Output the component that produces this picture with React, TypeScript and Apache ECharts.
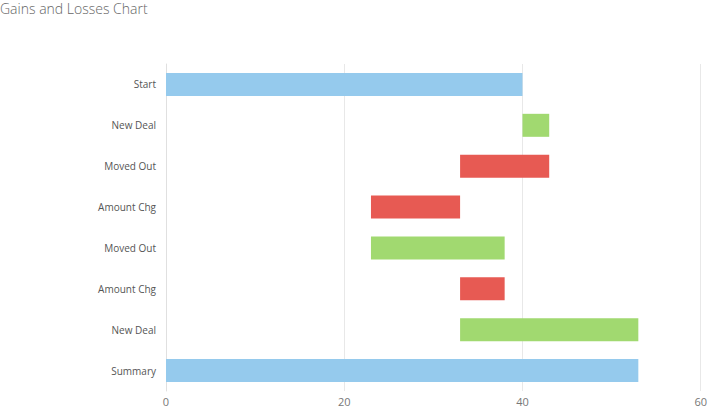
import React, { useEffect, useRef } from 'react';
import * as echarts from 'echarts';

const categories = ['Start', 'New Deal', 'Moved Out', 'Amount Chg', 'Moved Out', 'Amount Chg', 'New Deal', 'Summary'];
const barStart = [0, 40, 33, 23, 23, 33, 33, 0];
const barEnd = [40, 43, 43, 33, 38, 38, 53, 53];
const barKind = ['total', 'gain', 'loss', 'loss', 'gain', 'loss', 'gain', 'total'];
const xTicks = [0, 20, 40, 60];

const kindColor: Record<string, string> = {
  total: '#95caed',
  gain: '#a1d970',
  loss: '#e75a53',
};

export default function App() {
  const chartRef = useRef<HTMLDivElement>(null);

  useEffect(() => {
    if (!chartRef.current) return;
    document.body.style.margin = '0';
    const chart = echarts.init(chartRef.current, undefined, { renderer: 'svg' });

    chart.setOption({
      animation: false,
      textStyle: { fontFamily: '"Open Sans", sans-serif' },
      title: {
        text: 'Gains and Losses Chart',
        left: 0,
        top: 1,
        padding: 0,
        textStyle: { fontSize: 14, fontWeight: 300, color: '#666', fontFamily: '"Open Sans", sans-serif' },
      },
      grid: { left: 166, right: 9, top: 64, bottom: 13 },
      xAxis: {
        type: 'value',
        min: xTicks[0],
        max: xTicks[xTicks.length - 1],
        interval: 20,
        axisLine: { show: false },
        axisTick: { show: false },
        splitLine: { show: true, lineStyle: { color: '#e8e8e8' } },
        axisLabel: { color: '#777', fontSize: 11, margin: 5 },
      },
      yAxis: {
        type: 'category',
        inverse: true,
        data: categories,
        axisLine: { show: true, lineStyle: { color: '#e0e0e0' } },
        axisTick: { show: false },
        axisLabel: { color: '#555', fontSize: 10, margin: 10 },
      },
      series: [
        {
          type: 'bar',
          stack: 'wf',
          silent: true,
          barWidth: 23,
          itemStyle: { color: 'transparent' },
          data: barStart,
        },
        {
          type: 'bar',
          stack: 'wf',
          barWidth: 23,
          data: barEnd.map((e, i) => ({
            value: e - barStart[i],
            itemStyle: { color: kindColor[barKind[i]] },
          })),
        },
      ],
    });

    return () => chart.dispose();
  }, []);

  return <div ref={chartRef} style={{ width: 710, height: 407 }} />;
}
